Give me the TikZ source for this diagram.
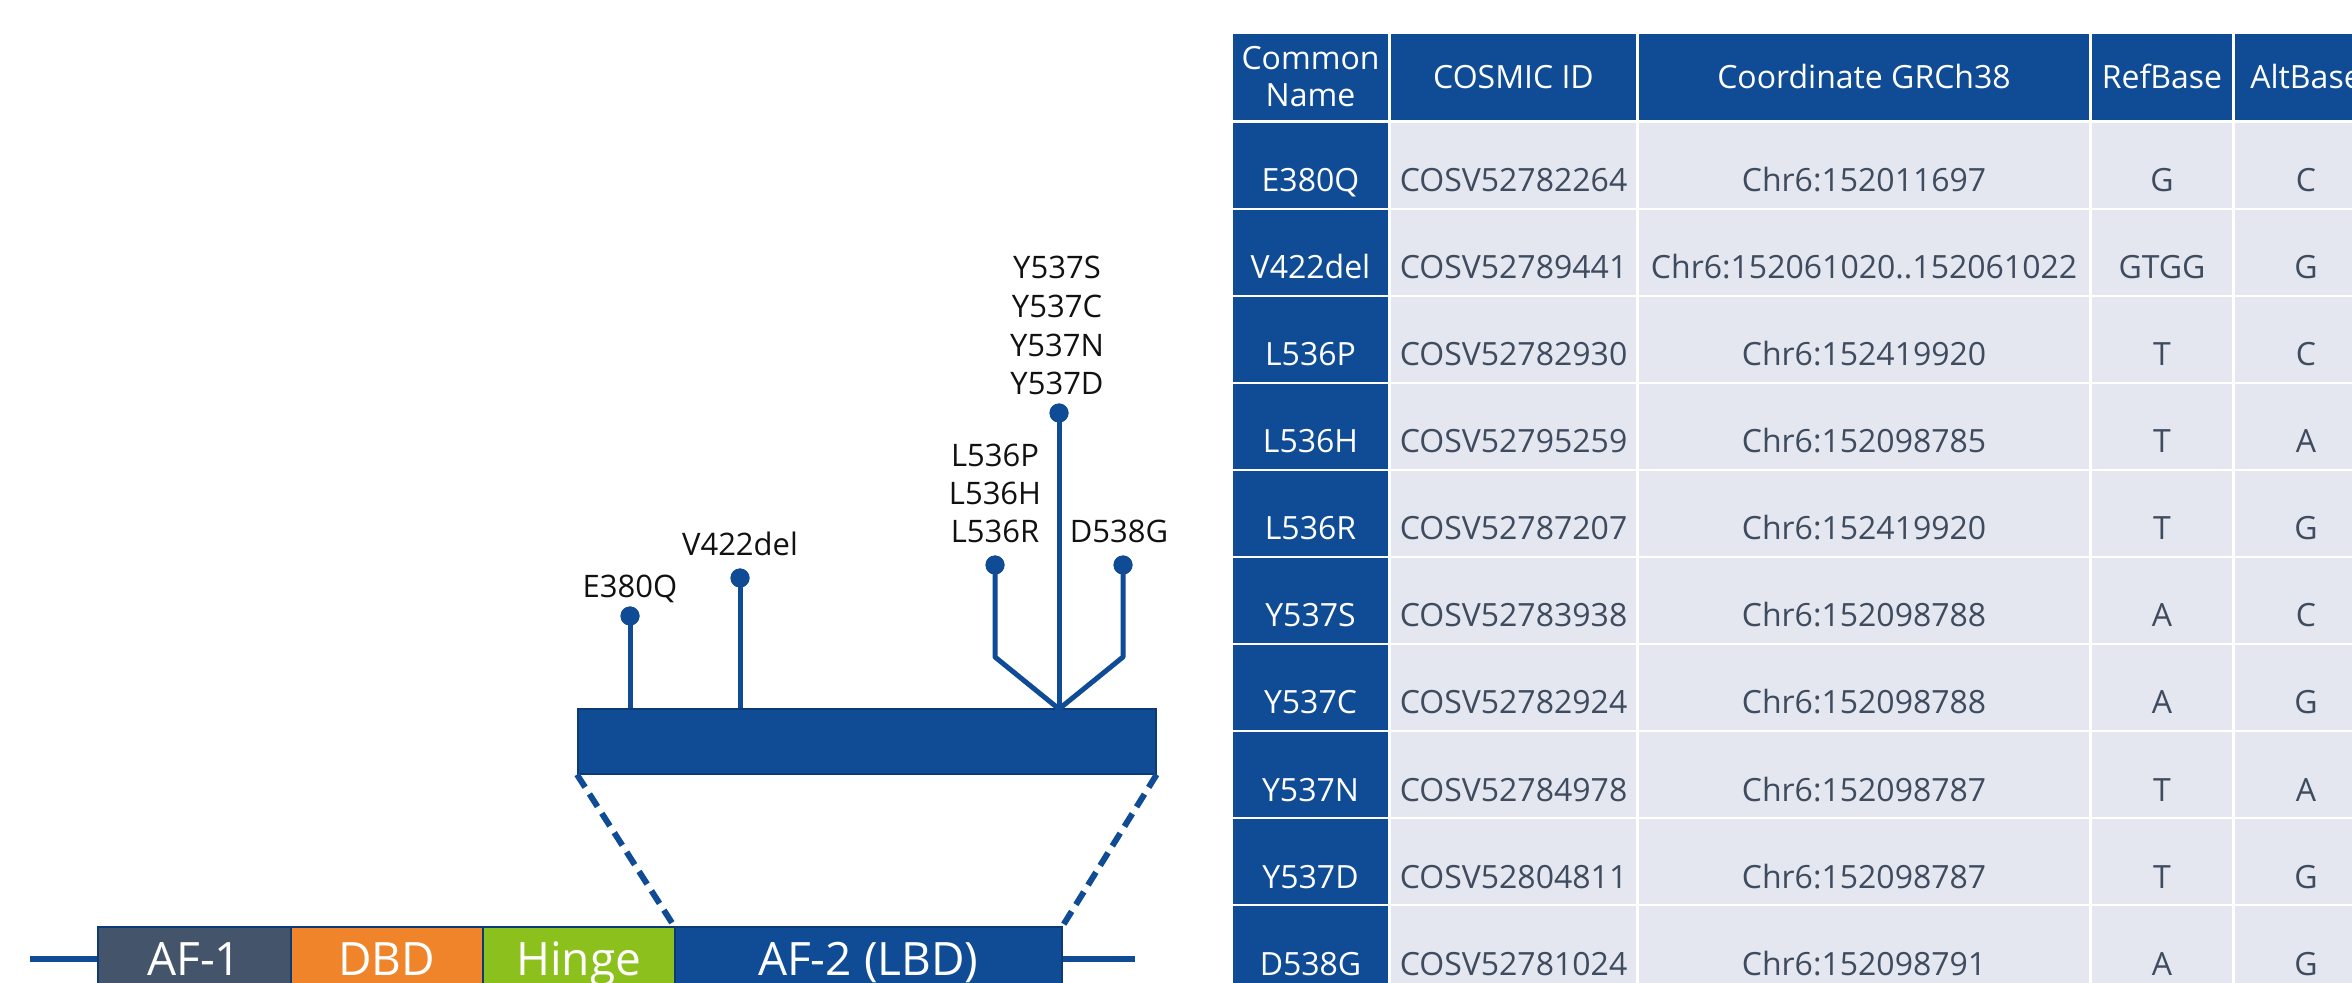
\documentclass[tikz,border=0pt]{standalone}
\usepackage{fontspec}
\setmainfont{Open Sans}
\definecolor{mblue}{HTML}{0F4C95}
\definecolor{navy}{HTML}{0B3A75}
\definecolor{slate}{HTML}{44546A}
\definecolor{dbdorange}{HTML}{F0842B}
\definecolor{hingegreen}{HTML}{8CC11D}
\definecolor{cellgray}{HTML}{E4E7EF}
\definecolor{celltext}{HTML}{3F4B5E}
\definecolor{lbltext}{HTML}{111111}
\tikzset{
  stem/.style={draw=mblue, line width=2.5pt, line join=round},
  lolli/.style={circle, fill=mblue, minimum size=9.5pt, inner sep=0pt},
  lbl/.style={font=\fontsize{15.5}{18}\selectfont, text=lbltext, anchor=base, inner sep=0pt},
  dombox/.style={draw=navy, line width=0.8pt, anchor=north west, minimum height=49pt,
    text height=8pt, text depth=8pt, inner sep=0pt, text=white,
    font=\fontsize{23}{26}\selectfont},
  zoomline/.style={draw=mblue, line width=3pt, dash pattern=on 7.5pt off 4pt},
  hdr/.style={font=\fontsize{16}{19}\selectfont, text=white, anchor=base, inner sep=0pt},
  cellw/.style={font=\fontsize{16}{19}\selectfont, text=white, anchor=base, inner sep=0pt},
  cellg/.style={font=\fontsize{16}{19}\selectfont, text=celltext, anchor=base, inner sep=0pt},
}
\begin{document}
\begin{tikzpicture}[x=0.5pt, y=-0.5pt]
\useasboundingbox (0,0) rectangle (2352,983);
\clip (0,0) rectangle (2352,983);
\fill[white] (0,0) rectangle (2352,983);

% ---------- protein domains ----------
\node[dombox, fill=slate, minimum width=96.5pt] (af1) at (97,926) {AF-1};
\node[dombox, fill=dbdorange, minimum width=96pt] (dbd) at (290,926) {DBD};
\node[dombox, fill=hingegreen, minimum width=96pt] (hinge) at (482,926) {Hinge};
\node[dombox, fill=mblue, minimum width=193.5pt] (af2) at (674,926) {AF-2 (LBD)};
\coordinate (lend) at (30,959);
\coordinate (rend) at (1135,959);
\draw[draw=mblue, line width=3pt] (lend) -- (lend -| af1.west);
\draw[draw=mblue, line width=3pt] (af2.east |- rend) -- (rend);

% ---------- zoomed LBD bar ----------
\node[draw=navy, line width=0.8pt, fill=mblue, anchor=north west, minimum width=289pt,
  minimum height=32.5pt, inner sep=0pt] (bar) at (577,708) {};
\draw[zoomline] (bar.south west) -- (af2.north west);
\draw[zoomline] (bar.south east) -- (af2.north east);

% ---------- lollipops ----------
\node[lolli] (dE) at (630,616) {};
\node[lolli] (dV) at (740,578) {};
\node[lolli] (dL) at (995,565) {};
\node[lolli] (dD) at (1123,565) {};
\node[lolli] (dY) at (1059,413) {};
\coordinate (jn) at (1059,709);
\coordinate (bendL) at (995,657);
\coordinate (bendD) at (1123,657);
\draw[stem] (dE.center) -- (dE |- bar.north);
\draw[stem] (dV.center) -- (dV |- bar.north);
\draw[stem] (dY.center) -- (jn);
\draw[stem] (dL.center) -- (bendL) -- (jn);
\draw[stem] (dD.center) -- (bendD) -- (jn);
\node[lolli] at (dE) {};
\node[lolli] at (dV) {};
\node[lolli] at (dL) {};
\node[lolli] at (dD) {};
\node[lolli] at (dY) {};

% ---------- lollipop labels ----------
\node[lbl] (tE) at (630,598) {E380Q};
\node[lbl] (tV) at (740,556) {V422del};
\node[lbl] (tLP) at (995,467) {L536P};
\node[lbl] (tLH) at (995,505) {L536H};
\node[lbl] (tLR) at (995,543) {L536R};
\node[lbl] (tD) at (1119,543) {D538G};
\node[lbl] (tYS) at (1057,279) {Y537S};
\node[lbl] (tYC) at (1057,318) {Y537C};
\node[lbl] (tYN) at (1057,357) {Y537N};
\node[lbl] (tYD) at (1057,395) {Y537D};

% ---------- table ----------
% header
\fill[mblue] (1233,34) rectangle (1388,120);
\fill[mblue] (1391,34) rectangle (1636,120);
\fill[mblue] (1639,34) rectangle (2089,120);
\fill[mblue] (2092,34) rectangle (2232,120);
\fill[mblue] (2235,34) rectangle (2377,120);
\node[hdr] (h1a) at (1310.5,70) {Common};
\node[hdr] (h1b) at (1310.5,107) {Name};
\node[hdr] (h2) at (1513.5,89) {COSMIC ID};
\node[hdr] (h3) at (1864,89) {Coordinate GRCh38};
\node[hdr] (h4) at (2162,89) {RefBase};
\node[hdr] (h5) at (2306,89) {AltBase};

\foreach \nm/\cid/\crd/\rb/\ab [count=\i from 0] in {
  E380Q/COSV52782264/{Chr6:152011697}/G/C,
  V422del/COSV52789441/{Chr6:152061020..152061022}/GTGG/G,
  L536P/COSV52782930/{Chr6:152419920}/T/C,
  L536H/COSV52795259/{Chr6:152098785}/T/A,
  L536R/COSV52787207/{Chr6:152419920}/T/G,
  Y537S/COSV52783938/{Chr6:152098788}/A/C,
  Y537C/COSV52782924/{Chr6:152098788}/A/G,
  Y537N/COSV52784978/{Chr6:152098787}/T/A,
  Y537D/COSV52804811/{Chr6:152098787}/T/G,
  D538G/COSV52781024/{Chr6:152098791}/A/G}
{
  \pgfmathsetmacro{\rtop}{123+87*\i}
  \pgfmathsetmacro{\rbot}{\rtop+85}
  \pgfmathsetmacro{\rbl}{\rtop+69}
  \fill[mblue] (1233,\rtop) rectangle (1388,\rbot);
  \fill[cellgray] (1391,\rtop) rectangle (1636,\rbot);
  \fill[cellgray] (1639,\rtop) rectangle (2089,\rbot);
  \fill[cellgray] (2092,\rtop) rectangle (2232,\rbot);
  \fill[cellgray] (2235,\rtop) rectangle (2377,\rbot);
  \node[cellw] (nm\i) at (1310.5,\rbl) {\nm};
  \node[cellg] (id\i) at (1513.5,\rbl) {\cid};
  \node[cellg] (co\i) at (1864,\rbl) {\crd};
  \node[cellg] (rb\i) at (2162,\rbl) {\rb};
  \node[cellg] (ab\i) at (2306,\rbl) {\ab};
}
\end{tikzpicture}
\end{document}
